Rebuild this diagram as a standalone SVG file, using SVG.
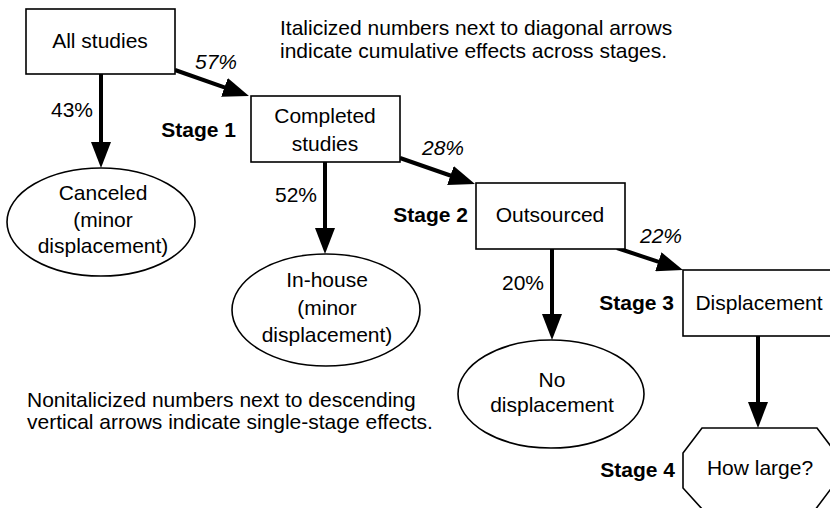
<svg xmlns="http://www.w3.org/2000/svg" width="830" height="508" viewBox="0 0 830 508">
<defs>
<style>
text{font-family:"Liberation Sans",Arial,Helvetica,sans-serif;font-size:21px;fill:#000}
.c{text-anchor:middle}
.e{text-anchor:end}
.b{font-weight:bold}
.i{font-style:italic}
.shape{fill:#fff;stroke:#000;stroke-width:1.6}
.arr{stroke:#000;stroke-width:4;fill:none;marker-end:url(#ah)}
</style>
<marker id="ah" markerUnits="userSpaceOnUse" markerWidth="26" markerHeight="20" refX="6" refY="10" orient="auto">
<path d="M0,0 L26,10 L0,20 Z" fill="#000"/>
</marker>
</defs>
<rect width="830" height="508" fill="#fff"/>

<g id="connectors">
<line class="arr" x1="101" y1="74" x2="101" y2="148"/>
<line class="arr" x1="175" y1="70" x2="230.1" y2="89.4"/>
<line class="arr" x1="325" y1="162" x2="325" y2="234"/>
<line class="arr" x1="400" y1="158" x2="456.1" y2="177.5"/>
<line class="arr" x1="552" y1="249" x2="552" y2="320"/>
<line class="arr" x1="617" y1="248" x2="664" y2="263.7"/>
<line class="arr" x1="758" y1="336" x2="758" y2="408"/>
</g>

<g id="node-all-studies">
<rect class="shape" x="26" y="9" width="149" height="65"/>
<text class="c" x="100" y="48">All studies</text>
</g>

<g id="node-canceled">
<ellipse class="shape" cx="101" cy="222" rx="94" ry="54"/>
<text class="c" x="103" y="200">Canceled</text>
<text class="c" x="103" y="227">(minor</text>
<text class="c" x="103" y="253">displacement)</text>
</g>

<g id="node-completed">
<rect class="shape" x="251" y="96" width="149" height="66"/>
<text class="c" x="325" y="123">Completed</text>
<text class="c" x="325" y="151">studies</text>
</g>

<g id="node-inhouse">
<ellipse class="shape" cx="326" cy="310" rx="94" ry="56"/>
<text class="c" x="327" y="287">In-house</text>
<text class="c" x="327" y="315">(minor</text>
<text class="c" x="327" y="342">displacement)</text>
</g>

<g id="node-outsourced">
<rect class="shape" x="476" y="183" width="149" height="66"/>
<text class="c" x="550" y="222">Outsourced</text>
</g>

<g id="node-no-displacement">
<ellipse class="shape" cx="551" cy="394" rx="93" ry="54"/>
<text class="c" x="552" y="387">No</text>
<text class="c" x="552" y="412">displacement</text>
</g>

<g id="node-displacement">
<rect class="shape" x="683" y="270" width="152" height="66"/>
<text class="c" x="759" y="310">Displacement</text>
</g>

<g id="node-how-large">
<polygon class="shape" points="702,428 817,428 836,453 836,482 815,510 703,510 683,488 683,453"/>
<text class="c" x="760" y="475">How large?</text>
</g>

<g id="labels">
<text x="51" y="117">43%</text>
<text class="i" x="195" y="69">57%</text>
<text x="275" y="202">52%</text>
<text class="i" x="422" y="155">28%</text>
<text x="502" y="290">20%</text>
<text class="i" x="640" y="243">22%</text>
<text class="b e" x="236" y="137">Stage 1</text>
<text class="b e" x="468" y="222">Stage 2</text>
<text class="b e" x="674" y="310">Stage 3</text>
<text class="b e" x="675" y="477">Stage 4</text>
</g>

<g id="notes">
<text x="280" y="35">Italicized numbers next to diagonal arrows</text>
<text x="280" y="58">indicate cumulative effects across stages.</text>
<text x="27" y="407">Nonitalicized numbers next to descending</text>
<text x="27" y="429">vertical arrows indicate single-stage effects.</text>
</g>
</svg>
